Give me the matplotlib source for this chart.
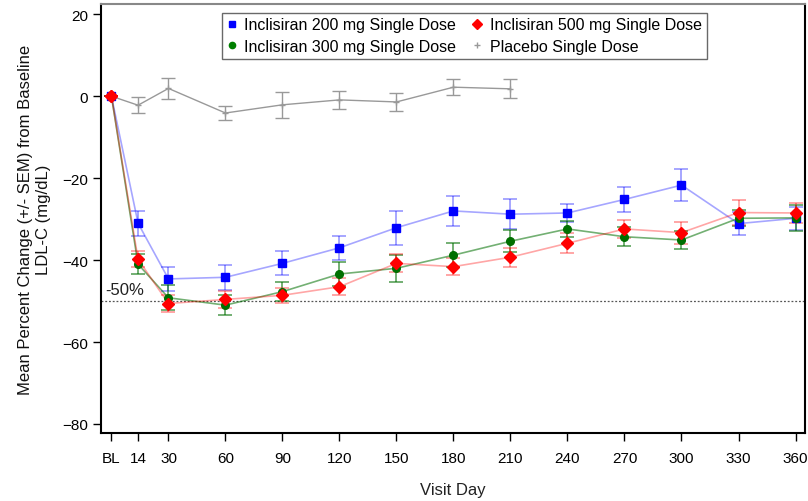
import numpy as np
import matplotlib
matplotlib.use("Agg")
import matplotlib.pyplot as plt
from matplotlib.lines import Line2D

plt.rcParams['font.family'] = ['Liberation Sans', 'DejaVu Sans']

# --- data ---
days = [0, 14, 30, 60, 90, 120, 150, 180, 210, 240, 270, 300, 330, 360]
tick_labels = ['BL', '14', '30', '60', '90', '120', '150', '180', '210',
               '240', '270', '300', '330', '360']

inc200 = [0, -31.0, -44.6, -44.2, -40.8, -37.0, -32.1, -28.0, -28.8, -28.5, -25.2, -21.7, -31.1, -29.8]
inc200_sem = [0, 3.1, 2.9, 3.0, 2.9, 2.9, 4.1, 3.6, 3.7, 2.2, 3.0, 4.0, 2.8, 2.8]

inc300 = [0, -41.0, -49.2, -51.0, -47.7, -43.4, -42.0, -38.8, -35.4, -32.4, -34.3, -35.1, -29.8, -29.7]
inc300_sem = [0, 2.4, 3.0, 2.5, 2.4, 3.0, 3.3, 3.0, 2.7, 2.0, 2.3, 2.3, 2.0, 3.1]

inc500 = [0, -39.8, -50.6, -49.6, -48.6, -46.5, -40.8, -41.6, -39.3, -35.9, -32.4, -33.3, -28.4, -28.5]
inc500_sem = [0, 1.9, 2.0, 2.1, 1.9, 2.1, 2.2, 2.0, 2.3, 2.4, 2.3, 2.7, 3.0, 2.4]

pbo_days = [0, 14, 30, 60, 90, 120, 150, 180, 210]
pbo = [0, -2.2, 1.9, -4.1, -2.1, -0.9, -1.4, 2.2, 1.8]
pbo_sem = [0, 1.9, 2.5, 1.75, 3.2, 2.2, 2.2, 2.0, 2.3]

# --- plot ---
fig = plt.figure(figsize=(8.08, 5.02), dpi=100)
ax = fig.add_axes([0.125, 0.1355, 0.8713, 0.8545])

ax.axhline(-50, color='#555555', lw=0.9, ls=(0, (1.5, 1.5)), zorder=1)
ax.text(-3.5, -49, '-50%', fontsize=12, color='#222222', ha='left', va='bottom')

series = [
    (days, inc200, inc200_sem, '#0000ff', 's', 6, 0.35),
    (days, inc300, inc300_sem, '#006f00', 'o', 5.5, 0.55),
    (days, inc500, inc500_sem, '#ff0000', 'D', 6.5, 0.35),
]
for x, y, e, c, m, ms, a in series:
    ax.errorbar(x, y, yerr=e, fmt='-', color=c, alpha=a, lw=1.2,
                elinewidth=1.4, capsize=5, capthick=1.4, zorder=2)
    ax.plot(x, y, ls='none', marker=m, ms=ms, color=c, zorder=3)

ax.errorbar(pbo_days[1:], pbo[1:], yerr=pbo_sem[1:], fmt='-', color='#999999',
            lw=1.0, elinewidth=1.0, capsize=5, capthick=1.0, zorder=2)
ax.plot(pbo_days[:2], pbo[:2], color='#999999', lw=1.0, zorder=2)
ax.plot(pbo_days[1:], pbo[1:], ls='none', marker='+', ms=5, color='#999999', zorder=3)
# baseline point (all arms at 0)
ax.plot([0], [0], ls='none', marker='D', ms=6.5, color='#ff0000', alpha=0.8, zorder=4)

ax.set_xlim(-5.5, 365)
ax.set_ylim(-82.2, 22.5)
ax.set_xticks(days)
ax.set_xticklabels(tick_labels)
ax.set_yticks([20, 0, -20, -40, -60, -80])
ax.tick_params(direction='out', length=6, width=1, labelsize=11, colors='black')
ax.tick_params(axis='x', pad=7)

for s in ['left', 'bottom', 'right']:
    ax.spines[s].set_linewidth(1.5)
    ax.spines[s].set_color('black')
ax.spines['top'].set_color('#888888')
ax.spines['top'].set_linewidth(1.5)

ax.set_xlabel('Visit Day', fontsize=12, labelpad=12, color='#222222')
ax.set_ylabel('Mean Percent Change (+/- SEM) from Baseline\nLDL-C (mg/dL)',
              fontsize=12, labelpad=8, color='#111111')

handles = [
    Line2D([], [], ls='none', marker='s', ms=5, color='#0000ff'),
    Line2D([], [], ls='none', marker='o', ms=4.5, color='#007f00'),
    Line2D([], [], ls='none', marker='D', ms=5.5, color='#ff0000'),
    Line2D([], [], ls='none', marker='+', ms=5, color='#999999'),
]
labels = ['Inclisiran 200 mg Single Dose', 'Inclisiran 300 mg Single Dose',
          'Inclisiran 500 mg Single Dose', 'Placebo Single Dose']
leg = ax.legend(handles, labels, ncol=2, loc='upper left',
                bbox_to_anchor=(0.172, 0.98), fontsize=11.5, frameon=True,
                fancybox=False, edgecolor='#444444', handlelength=0.6,
                handletextpad=0.5, columnspacing=1.0, borderpad=0.3,
                labelspacing=0.4, borderaxespad=0)
leg.get_frame().set_linewidth(1.0)

fig.savefig('out.png', dpi=100)
